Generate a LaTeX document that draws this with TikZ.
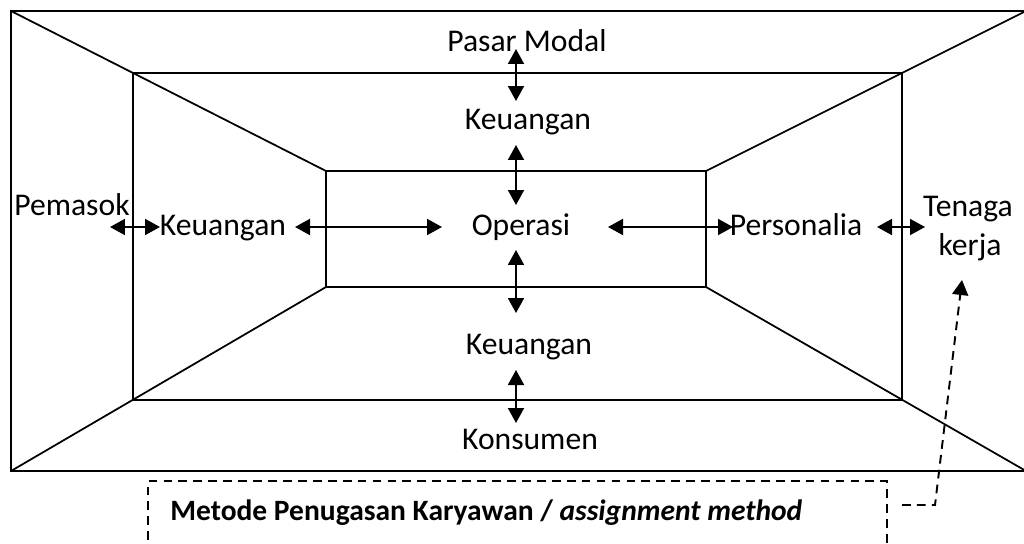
\documentclass[tikz,border=0pt]{standalone}
\usepackage{fontspec}
\setmainfont{Carlito}
\usetikzlibrary{arrows.meta}
\tikzset{lbl/.style={anchor=base,inner sep=0pt,font=\fontsize{18}{21}\selectfont}}
\tikzset{frame/.style={draw=black,line width=1pt}}
\tikzset{flow/.style={{Triangle[length=0.3cm,width=0.32cm]}-{Triangle[length=0.3cm,width=0.32cm]},line width=1.1pt}}
\tikzset{note/.style={line width=1.1pt,dash pattern=on 5pt off 3.5pt}}

\begin{document}
\begin{tikzpicture}[x=0.02cm,y=-0.02cm]
            \useasboundingbox (0,0) rectangle (1024,544);

            % room corners
            \coordinate (o1) at (11,11);   \coordinate (o2) at (1026,11);
            \coordinate (o3) at (1026,471); \coordinate (o4) at (11,471);
            \coordinate (m1) at (133,73);  \coordinate (m2) at (902,73);
            \coordinate (m3) at (902,400); \coordinate (m4) at (133,400);
            \coordinate (i1) at (326,171); \coordinate (i2) at (706,171);
            \coordinate (i3) at (706,287); \coordinate (i4) at (326,287);
            \draw[frame,line width=1.2pt] (o1) -- (o2) -- (o3) -- (o4) -- cycle;
            \draw[frame] (m1) -- (m2) -- (m3) -- (m4) -- cycle;
            \draw[frame] (i1) -- (i2) -- (i3) -- (i4) -- cycle;
            \draw[frame] (o1) -- (i1);
            \draw[frame] (o2) -- (i2);
            \draw[frame] (o3) -- (i3);
            \draw[frame] (o4) -- (i4);

            \node[lbl] (pasar) at (527,52) {Pasar Modal};
            \node[lbl] (keuTop) at (528,130) {Keuangan};
            \node[lbl] (operasi) at (521,235) {Operasi};
            \node[lbl] (keuBottom) at (529,354) {Keuangan};
            \node[lbl] (konsumen) at (530,449) {Konsumen};
            \node[lbl] (pemasok) at (72,215) {Pemasok};
            \node[lbl] (keuLeft) at (223,235) {Keuangan};
            \node[lbl] (personalia) at (796,235) {Personalia};
            \node[lbl] (tenaga) at (968,216) {Tenaga};
            \node[lbl] (kerja) at (970,255) {kerja};

            % arrow ends
            \coordinate (v1a) at (516,49);  \coordinate (v1b) at (516,101);
            \coordinate (v2a) at (516,145); \coordinate (v2b) at (516,205);
            \coordinate (v3a) at (516,250); \coordinate (v3b) at (516,313);
            \coordinate (v4a) at (516,370); \coordinate (v4b) at (516,423);
            \coordinate (h1a) at (110,227); \coordinate (h1b) at (160,227);
            \coordinate (h2a) at (295,227); \coordinate (h2b) at (442,227);
            \coordinate (h3a) at (608,227); \coordinate (h3b) at (733,227);
            \coordinate (h4a) at (877,227); \coordinate (h4b) at (925,227);
            \draw[flow] (v1a) -- (v1b);
            \draw[flow] (v2a) -- (v2b);
            \draw[flow] (v3a) -- (v3b);
            \draw[flow] (v4a) -- (v4b);
            \draw[flow] (h1a) -- (h1b);
            \draw[flow] (h2a) -- (h2b);
            \draw[flow] (h3a) -- (h3b);
            \draw[flow] (h4a) -- (h4b);

            % assignment method box
            \draw[note] (148,570) -- (148,481) -- (887,481) -- (887,570);
            \node[lbl,anchor=base west,font=\bfseries\fontsize{16.8}{20}\selectfont] (metode) at (170,520) {Metode Penugasan Karyawan / \textit{assignment method}};
            \coordinate (d1) at (902,505); \coordinate (d2) at (935,505);
            \coordinate (d3) at (962,280);
            \draw[note,-{Triangle[length=0.3cm,width=0.32cm]}] (d1) -- (d2) -- (d3);
\end{tikzpicture}
\end{document}
